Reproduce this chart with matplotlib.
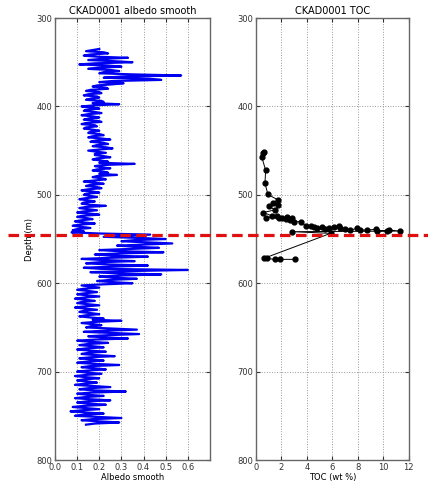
import numpy as np
import matplotlib
matplotlib.use('Agg')
import matplotlib.pyplot as plt
import matplotlib.transforms as mtransforms

albedo_depth = np.arange(335, 760.1, 1.25)
albedo = [
    0.20, 0.17, 0.14, 0.22, 0.24, 0.16, 0.13, 0.19, 0.33, 0.21, 0.15, 0.26, 0.35, 0.18, 0.11, 0.24, 0.30, 0.19, 0.15, 0.25,
    0.29, 0.22, 0.20, 0.35, 0.57, 0.30, 0.22, 0.43, 0.48, 0.26, 0.20, 0.31, 0.26, 0.19, 0.17, 0.23, 0.24, 0.16, 0.14, 0.20,
    0.21, 0.15, 0.13, 0.19, 0.20, 0.16, 0.14, 0.21, 0.22, 0.17, 0.29, 0.18, 0.12, 0.17, 0.20, 0.14, 0.13, 0.18, 0.21, 0.15,
    0.12, 0.17, 0.20, 0.15, 0.13, 0.19, 0.21, 0.14, 0.12, 0.18, 0.19, 0.14, 0.13, 0.17, 0.20, 0.16, 0.15, 0.20, 0.22, 0.17,
    0.15, 0.21, 0.25, 0.18, 0.16, 0.22, 0.24, 0.19, 0.17, 0.23, 0.26, 0.20, 0.15, 0.19, 0.23, 0.18, 0.18, 0.22, 0.25, 0.19,
    0.17, 0.21, 0.24, 0.20, 0.36, 0.22, 0.18, 0.21, 0.25, 0.19, 0.17, 0.22, 0.24, 0.20, 0.28, 0.19, 0.17, 0.21, 0.23, 0.18,
    0.13, 0.18, 0.22, 0.16, 0.14, 0.19, 0.21, 0.15, 0.12, 0.17, 0.20, 0.14, 0.13, 0.16, 0.19, 0.14, 0.11, 0.15, 0.18, 0.13,
    0.12, 0.16, 0.23, 0.14, 0.11, 0.15, 0.19, 0.13, 0.10, 0.16, 0.20, 0.12, 0.10, 0.14, 0.17, 0.12, 0.09, 0.13, 0.18, 0.11,
    0.08, 0.12, 0.16, 0.10, 0.08, 0.13, 0.075, 0.20, 0.43, 0.33, 0.22, 0.38, 0.50, 0.36, 0.30, 0.41, 0.53, 0.40, 0.28, 0.37,
    0.47, 0.33, 0.20, 0.29, 0.49, 0.30, 0.18, 0.26, 0.42, 0.25, 0.12, 0.22, 0.36, 0.20, 0.14, 0.24, 0.42, 0.26, 0.13, 0.21,
    0.60, 0.33, 0.16, 0.28, 0.48, 0.30, 0.20, 0.27, 0.37, 0.25, 0.19, 0.26, 0.35, 0.22, 0.12, 0.16, 0.20, 0.13, 0.10, 0.15,
    0.19, 0.14, 0.10, 0.15, 0.20, 0.13, 0.09, 0.14, 0.18, 0.12, 0.10, 0.15, 0.20, 0.13, 0.09, 0.14, 0.19, 0.13, 0.11, 0.16,
    0.20, 0.14, 0.11, 0.16, 0.22, 0.17, 0.30, 0.18, 0.12, 0.17, 0.21, 0.16, 0.14, 0.25, 0.37, 0.22, 0.13, 0.26, 0.38, 0.24,
    0.15, 0.22, 0.33, 0.18, 0.10, 0.16, 0.24, 0.15, 0.11, 0.17, 0.22, 0.14, 0.10, 0.16, 0.23, 0.15, 0.12, 0.18, 0.27, 0.16,
    0.11, 0.17, 0.22, 0.14, 0.10, 0.18, 0.29, 0.16, 0.12, 0.18, 0.23, 0.15, 0.10, 0.15, 0.21, 0.14, 0.09, 0.14, 0.20, 0.13,
    0.10, 0.15, 0.19, 0.13, 0.09, 0.17, 0.25, 0.15, 0.11, 0.18, 0.32, 0.16, 0.10, 0.15, 0.22, 0.14, 0.09, 0.16, 0.25, 0.14,
    0.10, 0.16, 0.23, 0.13, 0.08, 0.14, 0.20, 0.12, 0.07, 0.14, 0.22, 0.13, 0.09, 0.19, 0.30, 0.17, 0.12, 0.20, 0.29, 0.18,
    0.14,
]

# TOC samples in the order they are joined
toc = [0.63, 0.55, 0.45, 0.76, 0.71, 0.94, 1.75, 1.36, 1.75, 1.02, 1.5, 0.58,
       1.29, 0.76, 1.67, 1.8, 2.07, 2.33, 2.46, 2.67, 2.85, 2.98, 3.56, 3.9,
       4.29, 4.55, 4.81, 5.2, 5.46, 5.73, 6.12, 6.51, 6.64, 7.03, 7.42, 7.95,
       8.21, 8.73, 9.39, 9.52, 10.3, 10.43, 11.3, 2.85, 5.86, 0.6, 0.85, 1.5,
       1.9, 3.1]
toc_depth = [451, 453, 457, 472, 487, 499.5, 506, 509, 511, 513, 517, 520,
             524, 526.6, 524, 526.6, 525.9, 527.7, 524.7, 528.5, 526.6, 530.4,
             530.4, 535.3, 535.3, 536.8, 537.9, 536.8, 539.1, 537.9, 536.8,
             535.3, 537.9, 539.1, 539.8, 537.9, 539.8, 539.8, 539.1, 540.6,
             540.6, 539.8, 541, 541.7, 543.6, 572, 572, 573, 573, 573]

marker_depth = 546

plt.rcParams['font.family'] = 'DejaVu Sans'
plt.rcParams['xtick.direction'] = 'in'
plt.rcParams['ytick.direction'] = 'in'

fig = plt.figure(figsize=(4.28, 4.82), dpi=100)
ax1 = fig.add_axes([0.1285, 0.0456, 0.362, 0.917])
ax2 = fig.add_axes([0.598, 0.0456, 0.357, 0.917])

ax1.plot(albedo, albedo_depth, color='#0000f0', lw=1.6)
ax1.set_xlim(0, 0.7)
ax1.set_xticks(np.arange(0, 0.61, 0.1))
ax1.set_xticklabels(['0.0', '0.1', '0.2', '0.3', '0.4', '0.5', '0.6'])
ax1.set_title('CKAD0001 albedo smooth', fontsize=7, pad=3)
ax1.set_xlabel('Albedo smooth', fontsize=6, labelpad=1)
ax1.set_ylabel('Depth (m)', fontsize=6, labelpad=2)

ax2.plot(toc, toc_depth, color='k', lw=0.7, marker='o', markersize=3.5)
ax2.set_xlim(0, 12)
ax2.set_xticks(range(0, 13, 2))
ax2.set_title('CKAD0001 TOC', fontsize=7, pad=3)
ax2.set_xlabel('TOC (wt %)', fontsize=6, labelpad=1)

for ax in (ax1, ax2):
    ax.set_ylim(800, 300)
    ax.set_yticks(range(300, 801, 100))
    ax.grid(True, linestyle=':', color='#999999', lw=0.7)
    ax.tick_params(labelsize=6, length=3, top=True, right=True, pad=2, colors='#333333')
    for s in ax.spines.values():
        s.set_color('#666666')
        s.set_linewidth(1.0)

# red dashed marker spanning the whole figure width
trans = mtransforms.blended_transform_factory(fig.transFigure, ax1.transData)
fig.add_artist(plt.Line2D([0.019, 1.0], [marker_depth, marker_depth], transform=trans,
                          color='#e01010', lw=2.3, dashes=(3.3, 1.7)))

fig.savefig('out.png', dpi=100, facecolor='white')
